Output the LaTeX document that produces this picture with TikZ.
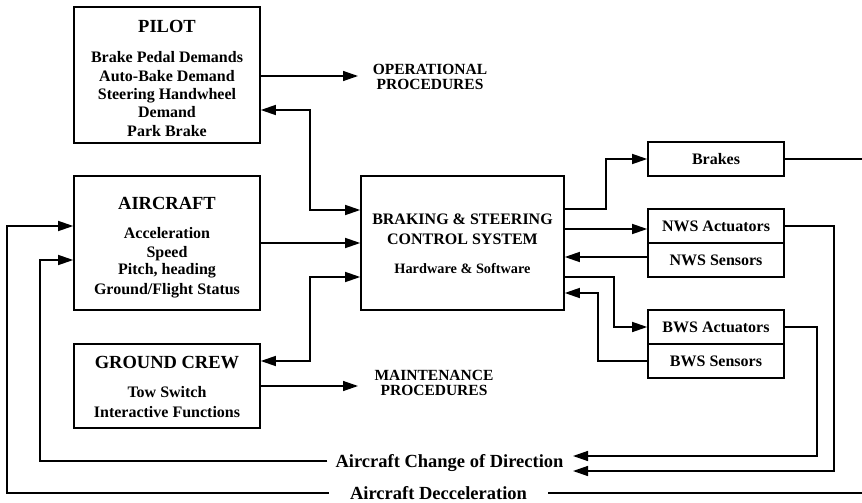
\documentclass[tikz,border=0pt]{standalone}
\usepackage{fontspec}
\setmainfont{Liberation Serif}
\usetikzlibrary{arrows.meta}
\begin{document}
\begin{tikzpicture}[x=1pt,y=-1pt,
  box/.style={draw, line width=1.6pt, inner sep=0pt},
  con/.style={line width=1.4pt},
  arr/.style={con, -{Triangle[length=15pt,width=10pt]}},
  dbl/.style={con, {Triangle[length=15pt,width=10pt]}-{Triangle[length=15pt,width=10pt]}},
  ttl/.style={inner sep=0pt, font=\fontsize{18.5}{20}\selectfont\bfseries, text height=12.4pt, text depth=0pt},
  bdy/.style={inner sep=0pt, font=\fontsize{16}{18}\selectfont\bfseries, text height=10.8pt, text depth=0pt},
  hw/.style={inner sep=0pt, font=\fontsize{14.3}{16}\selectfont\bfseries, text height=9.6pt, text depth=0pt},
  proc/.style={inner sep=0pt, font=\fontsize{15.5}{17}\selectfont\bfseries, text height=10.4pt, text depth=0pt},
  big/.style={inner ysep=0pt, font=\fontsize{18.5}{20}\selectfont\bfseries, text height=12.4pt, text depth=0pt}]
\useasboundingbox (0,0) rectangle (862,503);

% boxes
\node[box, minimum width=186pt, minimum height=136pt] (pilot) at (167,75) {};
\node[box, minimum width=186pt, minimum height=134pt] (ac) at (167,243) {};
\node[box, minimum width=186pt, minimum height=84pt] (gc) at (167,386) {};
\node[box, minimum width=203pt, minimum height=134pt] (cs) at (462.5,243) {};
\node[box, minimum width=136pt, minimum height=34pt] (brakes) at (716,159) {};
\node[box, minimum width=136pt, minimum height=34pt] (nwsa) at (716,226) {};
\node[box, minimum width=136pt, minimum height=34pt] (nwss) at (716,260) {};
\node[box, minimum width=136pt, minimum height=34pt] (bwsa) at (716,327) {};
\node[box, minimum width=136pt, minimum height=34pt] (bwss) at (716,361) {};

% texts
\node[ttl] (pilotT) at (167,26.5) {PILOT};
\node[bdy] (p1) at (167,56.7) {Brake Pedal Demands};
\node[bdy] (p2) at (167,75.8) {Auto-Bake Demand};
\node[bdy] (p3) at (167,93.7) {Steering Handwheel};
\node[bdy] (p4) at (167,112) {Demand};
\node[bdy] (p5) at (167,131.3) {Park Brake};

\node[ttl] (acT) at (167,203) {AIRCRAFT};
\node[bdy] (a1) at (167,233) {Acceleration};
\node[bdy] (a2) at (167,252) {Speed};
\node[bdy] (a3) at (167,269.5) {Pitch, heading};
\node[bdy] (a4) at (167,288.7) {Ground/Flight Status};

\node[ttl] (gcT) at (167,362.7) {GROUND CREW};
\node[bdy] (g1) at (167,392) {Tow Switch};
\node[bdy] (g2) at (167,411.7) {Interactive Functions};

\node[bdy] (c1t) at (462.5,218.8) {BRAKING \& STEERING};
\node[bdy] (c2t) at (462.5,238.7) {CONTROL SYSTEM};
\node[hw] (c3t) at (462.5,269) {Hardware \& Software};

\node[bdy] (brT) at (716,159) {Brakes};
\node[bdy] (naT) at (716,226) {NWS Actuators};
\node[bdy] (nsT) at (716,260) {NWS Sensors};
\node[bdy] (baT) at (716,327) {BWS Actuators};
\node[bdy] (bsT) at (716,361) {BWS Sensors};

\node[proc] (op1) at (430,69) {OPERATIONAL};
\node[proc] (op2) at (430,84) {PROCEDURES};
\node[proc] (mn1) at (434,375) {MAINTENANCE};
\node[proc] (mn2) at (434,390) {PROCEDURES};

\node[big, inner xsep=8pt] (chg) at (449.5,461) {Aircraft Change of Direction};
\node[big, inner xsep=21pt] (dec) at (438.5,493) {Aircraft Decceleration};

% connectors
\coordinate (opa) at (358,76);
\draw[arr] (pilot.east |- opa) -- (opa);
\coordinate (j1) at (310,110); \coordinate (j2) at (310,210);
\draw[dbl] (pilot.east |- j1) -- (j1) -- (j2) -- (cs.west |- j2);
\draw[arr] (ac.east) -- (cs.west);
\coordinate (j3) at (310,277); \coordinate (j4) at (310,361);
\draw[dbl] (cs.west |- j3) -- (j3) -- (j4) -- (gc.east |- j4);
\coordinate (mna) at (358,386);
\draw[arr] (gc.east) -- (mna);

\coordinate (r1) at (606,209);
\draw[arr] (cs.east |- r1) -- (r1) |- (brakes.west);
\coordinate (r2) at (600,229);
\draw[arr] (cs.east |- r2) -- (nwsa.west |- r2);
\coordinate (r3) at (600,257);
\draw[arr] (nwss.west |- r3) -- (cs.east |- r3);
\coordinate (r4) at (614,277);
\draw[arr] (cs.east |- r4) -- (r4) |- (bwsa.west);
\coordinate (r5) at (598,293);
\draw[arr] (bwss.west) -| (r5) -- (cs.east |- r5);

\coordinate (bk) at (862,159);
\draw[con] (brakes.east) -- (bk);
\coordinate (e1) at (573,471); \coordinate (e2) at (573,456);
\coordinate (n1) at (834,471);
\draw[arr] (nwsa.east) -| (n1) -- (e1);
\coordinate (b1) at (817,456);
\draw[arr] (bwsa.east) -| (b1) -- (e2);

\coordinate (k2) at (40,260);
\draw[arr] (chg.west) -| (k2) -- (ac.west |- k2);
\coordinate (d1) at (7,226);
\draw[arr] (dec.west) -| (d1) -- (ac.west |- d1);
\coordinate (d2) at (862,493);
\draw[con] (dec.east) -- (d2);
\end{tikzpicture}
\end{document}
